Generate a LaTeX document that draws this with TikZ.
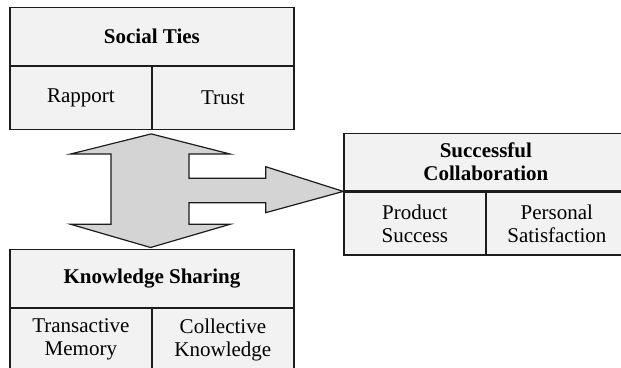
\documentclass[tikz,border=0pt]{standalone}
\usepackage{fontspec}
\setmainfont{Liberation Serif}
\usepackage{tikz}
\usetikzlibrary{calc}
\usetikzlibrary{positioning}
\definecolor{cloud}{RGB}{242, 242, 242}
\definecolor{silver}{RGB}{212, 212, 212}
\definecolor{ink}{RGB}{28, 28, 28}

\tikzset{
    headbox/.style={draw=ink, fill=cloud, line width=1.2pt, minimum width=284pt, minimum height=57.5pt,
        inner sep=0pt, align=center, font=\fontsize{21}{23}\selectfont\bfseries},
    cellbox/.style={draw=ink, fill=cloud, line width=1.2pt, minimum width=142pt, minimum height=63pt,
        inner sep=0pt, align=center, font=\fontsize{21}{23}\selectfont},
}

\begin{document}
\begin{tikzpicture}[x=1pt, y=-1pt]
            % Frame
            \useasboundingbox                                                 (0.00, 0.00) rectangle (621.00, 367.00);
            \clip                                                             (0.00, 0.00) rectangle (621.00, 367.00);
            % Social Ties
            \node[headbox, anchor=north west] (ties)    at (  9.30,   7.00) {Social Ties};
            \node[cellbox, anchor=north west] (rapport) at (ties.south west) {Rapport};
            \node[cellbox, anchor=north east] (trust)   at (ties.south east) {Trust};
            % Successful Collaboration
            \node[headbox, anchor=north west] (collab)  at (343.30, 132.70) {Successful\\Collaboration};
            \node[cellbox, anchor=north west] (product) at (collab.south west) {Product\\Success};
            \node[cellbox, anchor=north east] (personal) at (collab.south east) {Personal\\Satisfaction};
            % Knowledge Sharing
            \node[headbox, anchor=north west] (sharing) at (  9.30, 249.00) {Knowledge Sharing};
            \node[cellbox, anchor=north west] (memory)  at (sharing.south west) {Transactive\\Memory};
            \node[cellbox, anchor=north east] (collective) at (sharing.south east) {Collective\\Knowledge};
            % Block arrow
            \draw[draw=ink, fill=silver, line width=1.2pt, line join=miter]
                 ($(rapport.south east)+(-1.3, 4.00)$) -- (230.00, 154.00) -- (189.00, 154.00) -- (189.00, 178.30)
                 -- (265.70, 178.30) -- (265.70, 166.70) -- (collab.south west) -- (265.70, 212.70)
                 -- (265.70, 202.70) -- (189.00, 202.70) -- (189.00, 224.30) -- (230.00, 224.30)
                 -- ($(sharing.north)+(-1.3,-1.50)$) -- ( 70.70, 224.30) -- (111.00, 224.30)
                 -- (111.00, 154.00) -- ( 70.70, 154.00) -- cycle;
\end{tikzpicture}
\end{document}
